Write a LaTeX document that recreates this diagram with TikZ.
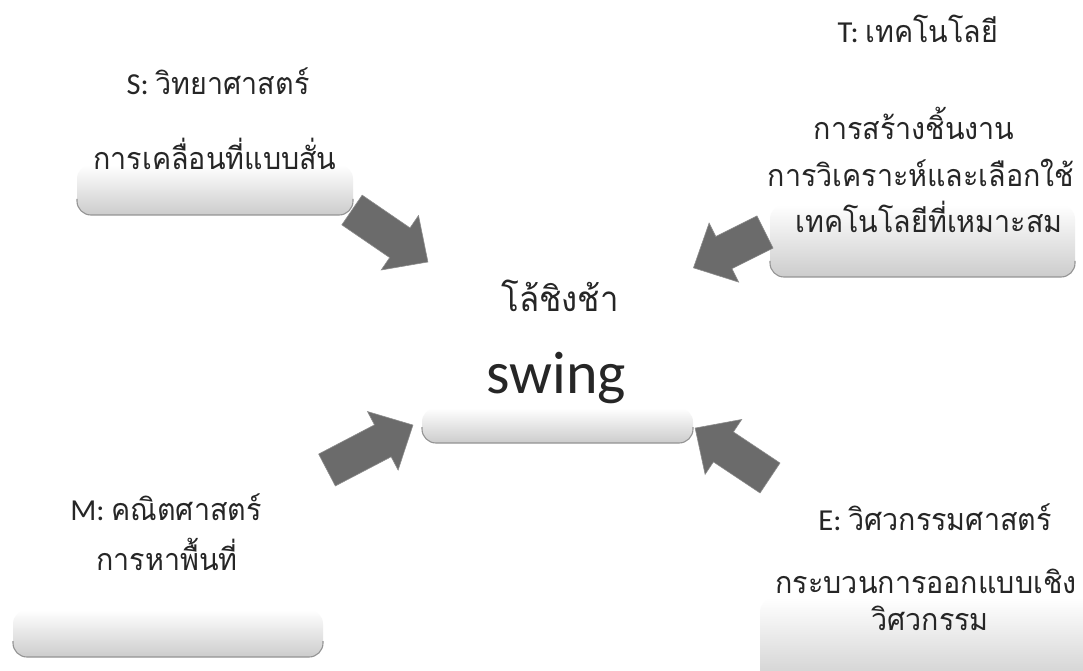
\documentclass[tikz,border=0pt]{standalone}
\usepackage{fontspec}
\setmainfont{Carlito}
\newfontfamily\thai[Script=Thai, FakeStretch=0.94]{Loma}
\begin{document}
\begin{tikzpicture}[x=1pt,y=1pt,
  lbl/.style={anchor=base, inner sep=0pt, font=\fontsize{30.5}{36}\selectfont, text=black!85},
  boxshade/.style={top color=white, bottom color=black!20, rounded corners=14pt},
  boxedge/.style={draw=black!42, line width=1.1pt, rounded corners=14pt},
  blockarrow/.style={fill=black!58, draw=black!45, line width=0.6pt}
]
\useasboundingbox (0,0) rectangle (1083,670);
\fill[white] (0,0) rectangle (1083,670);
% shadow boxes
\newcommand{\shadowbox}[4]{%
  \shade[boxshade] (#1,#2) rectangle (#3,#4);
  \draw[boxedge] (#1,#2+16) -- (#1,#2) -- (#3,#2) -- (#3,#2+16);
}
\shadowbox{77}{455}{353}{505}
\shadowbox{770}{393}{1075}{465}
\shadowbox{422}{227}{693}{262}
\shadowbox{13}{13}{323}{60}
\shadowbox{760}{-20}{1095}{72}
% block arrows: tail (x,y), angle, length
\newcommand{\blockarr}[4]{%
  \begin{scope}[shift={(#1,#2)}, rotate=#3]
    \path[blockarrow] (0,-18) -- (#4-34,-18) -- (#4-34,-33) -- (#4,0) -- (#4-34,33) -- (#4-34,18) -- (0,18) -- cycle;
  \end{scope}
}
\blockarr{352}{460}{-34.4}{92}
\blockarr{765}{438}{206.6}{80}
\blockarr{327}{200}{27.6}{97}
\blockarr{770}{192}{146.3}{90}
% texts
\node[lbl] (s1) at (218,575) {S: {\thai วิทยาศาสตร์}};
\node[lbl] (s2) at (215,500) {\thai การเคลื่อนที่แบบสั่น};
\node[lbl] (t1) at (918,627) {T: {\thai เทคโนโลยี}};
\node[lbl] (t2) at (914,530) {\thai การสร้างชิ้นงาน};
\node[lbl] (t3) at (921,483) {\thai การวิเคราะห์และเลือกใช้};
\node[lbl] (t4) at (929,437) {\thai เทคโนโลยีที่เหมาะสม};
\node[lbl, font=\fontsize{35}{40}\selectfont] (c1) at (560,358) {\thai โล้ชิงช้า};
\node[lbl, font=\fontsize{60}{70}\selectfont] (c2) at (556,277) {swing};
\node[lbl] (m1) at (166,150) {M: {\thai คณิตศาสตร์}};
\node[lbl] (m2) at (167,100) {\thai การหาพื้นที่};
\node[lbl] (e1) at (935,140) {E: {\thai วิศวกรรมศาสตร์}};
\node[lbl] (e2) at (926,77) {\thai กระบวนการออกแบบเชิง};
\node[lbl] (e3) at (930,40) {\thai วิศวกรรม};
\end{tikzpicture}
\end{document}
